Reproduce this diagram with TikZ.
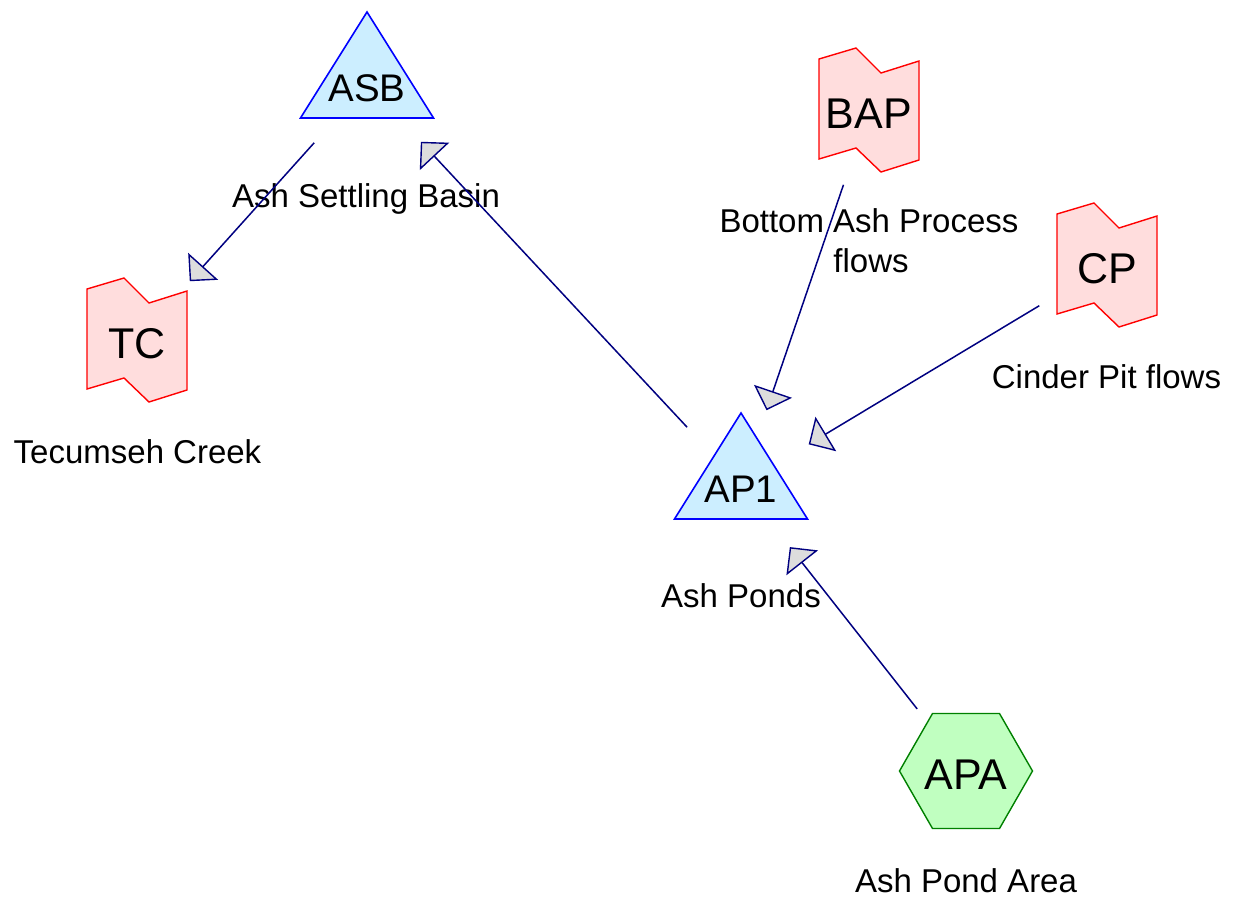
\documentclass[tikz,border=0pt]{standalone}
\usepackage{fontspec}
\setmainfont{Liberation Sans}
\usetikzlibrary{arrows.meta}
\definecolor{pondfill}{HTML}{CCEEFF}
\definecolor{pondline}{HTML}{0000FF}
\definecolor{flagfill}{HTML}{FFDDDD}
\definecolor{flagline}{HTML}{FF0000}
\definecolor{hexfill}{HTML}{C0FFC0}
\definecolor{hexline}{HTML}{008000}
\definecolor{connline}{HTML}{000080}
\definecolor{tipfill}{HTML}{DDDDDD}
\begin{document}
\begin{tikzpicture}[x=1pt,y=-1pt,
  tristyle/.style={draw=pondline,fill=pondfill,line width=1.6pt,line join=miter},
  flagstyle/.style={draw=flagline,fill=flagfill,line width=1.4pt,line join=miter},
  hexstyle/.style={draw=hexline,fill=hexfill,line width=1.4pt,line join=miter},
  pics/trishape/.style={code={\draw[tristyle] (0,-72) -- (66.5,34) -- (-66.5,34) -- cycle;}},
  pics/flagshape/.style={code={\draw[flagstyle] (-50,-51) -- (-13,-62) -- (12,-37) -- (50,-49) -- (50,50) -- (12,62) -- (-13,38) -- (-50,49) -- cycle;}},
  pics/hexshape/.style={code={\draw[hexstyle] (-33.5,-57.5) -- (33.5,-57.5) -- (66.5,0) -- (33.5,57.5) -- (-33.5,57.5) -- (-66.5,0) -- cycle;}},
  nodetext/.style={font=\fontsize{38.5}{38.5}\selectfont,inner sep=0pt,text height=34pt,text depth=0pt,anchor=center},
  bigtext/.style={font=\fontsize{43}{43}\selectfont,inner sep=0pt,text height=36pt,text depth=0pt,anchor=center},
  labeltext/.style={font=\fontsize{33}{33}\selectfont,inner sep=0pt,anchor=base},
  conn/.style={draw=connline,line width=1.5pt,shorten <=79pt,shorten >=79pt,
    -{Triangle[length=20pt,width=40pt,fill=tipfill,line width=1.4pt]}}
]
\useasboundingbox (0,0) rectangle (1235,910);

% shapes
\pic at (367,84) {trishape};
\pic at (741,485) {trishape};
\pic at (137,340) {flagshape};
\pic at (869,110) {flagshape};
\pic at (1107,265) {flagshape};
\pic at (966,771) {hexshape};

% node texts
\node[nodetext] (ASB) at (367,84) {ASB};
\node[nodetext] (AP1) at (741,485) {AP1};
\node[bigtext] (TC) at (137,340) {TC};
\node[bigtext] (BAP) at (869,110) {BAP};
\node[bigtext] (CP) at (1107,265) {CP};
\node[bigtext] (APA) at (966,771) {APA};

% labels
\node[labeltext] (ASBl) at (366,207) {Ash Settling Basin};
\node[labeltext] (AP1l) at (741,607) {Ash Ponds};
\node[labeltext] (TCl) at (137.5,463) {Tecumseh Creek};
\node[labeltext] (BAPl) at (869,232) {Bottom Ash Process};
\node[labeltext] (BAPl2) at (871,272.5) {flows};
\node[labeltext] (CPl) at (1106.5,388) {Cinder Pit flows};
\node[labeltext] (APAl) at (966,892) {Ash Pond Area};

% connectors
\draw[conn] (ASB.center) -- (TC.center);
\draw[conn] (AP1.center) -- (ASB.center);
\draw[conn] (BAP.center) -- (AP1.center);
\draw[conn] (CP.center) -- (AP1.center);
\draw[conn] (APA.center) -- (AP1.center);
\end{tikzpicture}
\end{document}
